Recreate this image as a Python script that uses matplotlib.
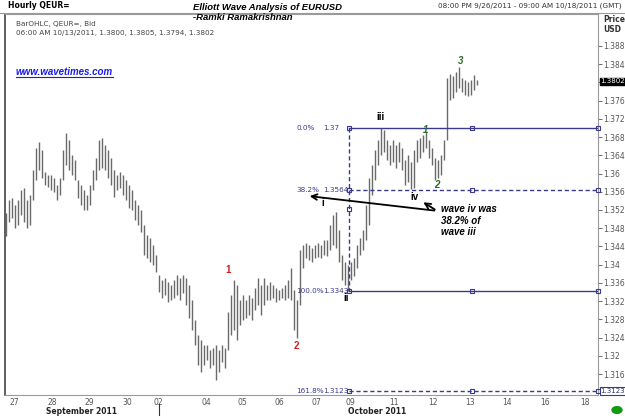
import matplotlib.pyplot as plt
import numpy as np

# hourly EURUSD bars (about 2 hours per bar)
highs = [1.3514, 1.3542, 1.3546, 1.3531, 1.3542, 1.3564, 1.3568, 1.3542, 1.3553, 1.3608,
         1.3656, 1.3669, 1.3652, 1.3603, 1.3597, 1.3597, 1.3590, 1.3575, 1.3590, 1.3652,
         1.3689, 1.3674, 1.3641, 1.3630, 1.3586, 1.3575, 1.3564, 1.3553, 1.3575, 1.3608,
         1.3634, 1.3674, 1.3678, 1.3663, 1.3652, 1.3634, 1.3608, 1.3597, 1.3603, 1.3597,
         1.3586, 1.3575, 1.3564, 1.3542, 1.3531, 1.3520, 1.3487, 1.3465, 1.3459, 1.3443,
         1.3421, 1.3377, 1.3367, 1.3371, 1.3362, 1.3356, 1.3367, 1.3377, 1.3371, 1.3377,
         1.3371, 1.3356, 1.3323, 1.3279, 1.3246, 1.3235, 1.3224, 1.3224, 1.3213, 1.3218,
         1.3224, 1.3213, 1.3224, 1.3218, 1.3296, 1.3334, 1.3367, 1.3356, 1.3323, 1.3334,
         1.3323, 1.3334, 1.3327, 1.3349, 1.3371, 1.3356, 1.3371, 1.3356, 1.3362, 1.3356,
         1.3349, 1.3345, 1.3349, 1.3356, 1.3367, 1.3393, 1.3345, 1.3323, 1.3432, 1.3443,
         1.3448, 1.3443, 1.3437, 1.3443, 1.3448, 1.3443, 1.3454, 1.3454, 1.3487, 1.3509,
         1.3516, 1.3476, 1.3421, 1.3406, 1.3399, 1.3406, 1.3415, 1.3443, 1.3459, 1.3476,
         1.3531, 1.3590, 1.3619, 1.3652, 1.3674, 1.3700, 1.3696, 1.3674, 1.3663, 1.3674,
         1.3663, 1.3669, 1.3656, 1.3630, 1.3641, 1.3625, 1.3652, 1.3674, 1.3678, 1.3685,
         1.3691, 1.3674, 1.3656, 1.3634, 1.3630, 1.3641, 1.3674, 1.3810, 1.3818, 1.3814,
         1.3823, 1.3834, 1.3810, 1.3805, 1.3801, 1.3805, 1.3816, 1.3805]
lows = [1.3463, 1.3494, 1.3503, 1.3481, 1.3487, 1.3509, 1.3494, 1.3481, 1.3487, 1.3542,
        1.3586, 1.3608, 1.3590, 1.3575, 1.3571, 1.3564, 1.3560, 1.3542, 1.3553, 1.3586,
        1.3619, 1.3608, 1.3597, 1.3586, 1.3546, 1.3531, 1.3520, 1.3520, 1.3531, 1.3564,
        1.3586, 1.3608, 1.3612, 1.3608, 1.3590, 1.3575, 1.3549, 1.3564, 1.3568, 1.3553,
        1.3542, 1.3524, 1.3520, 1.3498, 1.3487, 1.3472, 1.3421, 1.3415, 1.3406, 1.3399,
        1.3384, 1.3340, 1.3327, 1.3334, 1.3318, 1.3323, 1.3327, 1.3334, 1.3323, 1.3338,
        1.3312, 1.3283, 1.3257, 1.3224, 1.3180, 1.3165, 1.3180, 1.3191, 1.3173, 1.3180,
        1.3147, 1.3165, 1.3187, 1.3173, 1.3213, 1.3246, 1.3257, 1.3235, 1.3268, 1.3279,
        1.3283, 1.3290, 1.3279, 1.3301, 1.3312, 1.3290, 1.3312, 1.3323, 1.3323, 1.3327,
        1.3318, 1.3323, 1.3327, 1.3323, 1.3327, 1.3323, 1.3257, 1.3239, 1.3312, 1.3393,
        1.3415, 1.3410, 1.3406, 1.3415, 1.3417, 1.3415, 1.3421, 1.3419, 1.3432, 1.3443,
        1.3437, 1.3406, 1.3367, 1.3356, 1.3343, 1.3367, 1.3375, 1.3393, 1.3421, 1.3432,
        1.3454, 1.3487, 1.3553, 1.3586, 1.3619, 1.3641, 1.3647, 1.3630, 1.3619, 1.3625,
        1.3612, 1.3625, 1.3608, 1.3575, 1.3582, 1.3566, 1.3568, 1.3625, 1.3634, 1.3647,
        1.3656, 1.3634, 1.3619, 1.3586, 1.3590, 1.3597, 1.3630, 1.3674, 1.3761, 1.3766,
        1.3779, 1.3788, 1.3779, 1.3772, 1.3770, 1.3772, 1.3783, 1.3794]

# day labels and the bar where each day starts
day_labels = ['27', '28', '29', '30', '02', '04', '05', '06', '07', '09', '11', '12', '13', '14', '16', '18']
day_bars = [2.7, 15.3, 27.7, 40.3, 50.7, 66.7, 78.7, 91, 103.3, 114.7, 129.3, 142.3, 154.7, 167, 179.7, 193]

# fibonacci projection of wave iii from the wave ii low
fib_pct = ['0.0%', '38.2%', '100.0%', '161.8%']
fib_val = [1.37, 1.3564, 1.3343, 1.3123]
fib_txt = ['1.37', '1.3564', '1.3343', '1.3123']
fib_style = ['-', '--', '-', '--']
fib_start = 114.3
fib_mid = 155.3

# wave counts: (text, bar, price, colour)
waves = [('1', 74, 1.3388, '#cc2020'), ('2', 96.7, 1.3222, '#cc2020'),
         ('i', 105.7, 1.3535, 'black'), ('ii', 113.3, 1.3327, 'black'),
         ('iii', 124.7, 1.3724, 'black'), ('iv', 136, 1.3549, 'black'),
         ('1', 139.7, 1.3696, '#2a6a2a'), ('2', 143.7, 1.3575, '#2a6a2a'),
         ('3', 151.7, 1.3847, '#2a6a2a')]

navy = '#3a3a8c'
W, H = 625, 420

fig = plt.figure(figsize=(6.25, 4.2), dpi=100)
fig.patch.set_facecolor('white')
ax = fig.add_axes([5 / W, 25 / H, 593 / W, 381 / H])

x = np.arange(len(highs))
ax.vlines(x, lows, highs, color='#6a6a6a', lw=1.0, zorder=2)

ax.set_xlim(-0.33, 197.33)
ax.set_ylim(1.3114, 1.3950)

# fib levels
for pct, val, txt, ls in zip(fib_pct, fib_val, fib_txt, fib_style):
    ax.plot([fib_start, 197.33], [val, val], color=navy, lw=1, ls=ls,
            dashes=(3, 2) if ls == '--' else (None, None), zorder=3)
    ax.plot([fib_start, fib_mid], [val, val], 's', mfc='none', mec=navy, ms=3.5, mew=0.8, zorder=4)
    ax.plot([197.33], [val], 's', mfc='none', mec=navy, ms=3.5, mew=0.8, zorder=4, clip_on=False)
    ax.text(96.8, val, pct, fontsize=5.2, color=navy, va='center', ha='left')
    ax.text(105.6, val, txt, fontsize=5.2, color=navy, va='center', ha='left')
ax.plot([fib_start, fib_start], [fib_val[0], fib_val[2]], color=navy, lw=1, dashes=(3, 2), zorder=3)
ax.plot([fib_start], [(fib_val[0] + fib_val[2]) / 2], 's', mfc='none', mec=navy, ms=3.5, mew=0.8, zorder=4)

# wave labels
for t, bx, py, c in waves:
    style = 'italic' if c == '#2a6a2a' else 'normal'
    ax.text(bx, py, t, color=c, fontsize=7, fontweight='bold', style=style,
            ha='center', va='center', family='Liberation Sans')

# arrows from the note
ax.annotate('', xy=(100.3, 1.3551), xytext=(143.7, 1.3518),
            arrowprops=dict(arrowstyle='->', color='black', lw=1.3))
ax.annotate('', xy=(138.3, 1.3540), xytext=(143.7, 1.3518),
            arrowprops=dict(arrowstyle='->', color='black', lw=1.3))
ax.text(145, 1.3532, 'wave iv was\n38.2% of\nwave iii', fontsize=7, fontweight='bold',
        style='italic', va='top', ha='left', linespacing=1.15, family='Liberation Sans')

# axes styling
ax.yaxis.tick_right()
yt = np.arange(1.316, 1.3881, 0.004)
ax.set_yticks(yt)
ax.set_yticklabels(['' if abs(v - 1.38) < 1e-6 else ('%.3f' % v).rstrip('0') for v in yt])
ax.tick_params(axis='y', labelsize=5.5, colors='#555555', length=3, width=0.6, pad=1)
ax.set_xticks(day_bars)
ax.set_xticklabels(day_labels)
ax.tick_params(axis='x', labelsize=5.5, colors='#555555', length=0, pad=2)
for s in ['top', 'right', 'bottom']:
    ax.spines[s].set_color('#9a9a9a')
    ax.spines[s].set_linewidth(0.8)
ax.spines['left'].set_color('#444444')
ax.spines['left'].set_linewidth(1.2)

# price boxes on the right
ytr = ax.get_yaxis_transform()
ax.text(1.004, 1.3802, '1.3802', transform=ytr, fontsize=5, color='white', va='center',
        ha='left', clip_on=False, zorder=6,
        bbox=dict(boxstyle='square,pad=0.1', fc='black', ec='black'))
ax.text(1.004, 1.3123, '1.3123', transform=ytr, fontsize=5, color='#333366', va='center',
        ha='left', clip_on=False, zorder=6,
        bbox=dict(boxstyle='square,pad=0.1', fc='white', ec=navy, lw=0.8))

# header and footer texts (pixel positions)
def fx(px):
    return px / W

def fy(py):
    return 1 - py / H

fig.text(fx(8), fy(6), 'Hourly QEUR=', fontsize=5.5, fontweight='bold', va='center')
fig.text(fx(193), fy(7), 'Elliott Wave Analysis of EURUSD', fontsize=6.8, fontweight='bold',
         style='italic', va='center', family='Liberation Sans')
fig.text(fx(193), fy(18), '-Ramki Ramakrishnan', fontsize=6.8, fontweight='bold',
         style='italic', va='center', family='Liberation Sans')
fig.text(fx(622), fy(6), '08:00 PM 9/26/2011 - 09:00 AM 10/18/2011 (GMT)', fontsize=5.2,
         color='#333333', va='center', ha='right')
fig.text(fx(603), fy(19), 'Price', fontsize=5.5, fontweight='bold', color='#333333', va='center')
fig.text(fx(603), fy(29), 'USD', fontsize=5.5, fontweight='bold', color='#333333', va='center')
fig.text(fx(16), fy(24), 'BarOHLC, QEUR=, Bid', fontsize=5.2, color='#444444', va='center')
fig.text(fx(16), fy(33), '06:00 AM 10/13/2011, 1.3800, 1.3805, 1.3794, 1.3802', fontsize=5.2,
         color='#444444', va='center')
fig.text(fx(16), fy(72), 'www.wavetimes.com', fontsize=7, fontweight='bold',
         style='italic', color='#1a1aee', va='center', family='Liberation Sans')
fig.add_artist(plt.Line2D([fx(16), fx(113)], [fy(77), fy(77)], color='#1a1aee', lw=0.8))

fig.text(fx(82), fy(412), 'September 2011', fontsize=5.5, fontweight='bold', color='#222222',
         ha='center', va='center')
fig.text(fx(377), fy(412), 'October 2011', fontsize=5.5, fontweight='bold', color='#222222',
         ha='center', va='center')
fig.add_artist(plt.Line2D([fx(159), fx(159)], [fy(404), fy(415)], color='#333333', lw=0.8))
fig.add_artist(plt.Line2D([fx(0), fx(625)], [fy(13), fy(13)], color='#9a9a9a', lw=0.8))
fig.add_artist(plt.Circle((fx(617), fy(410)), 5 / W, color='#119911',
                          transform=fig.transFigure))

fig.savefig('out.png', dpi=100)
